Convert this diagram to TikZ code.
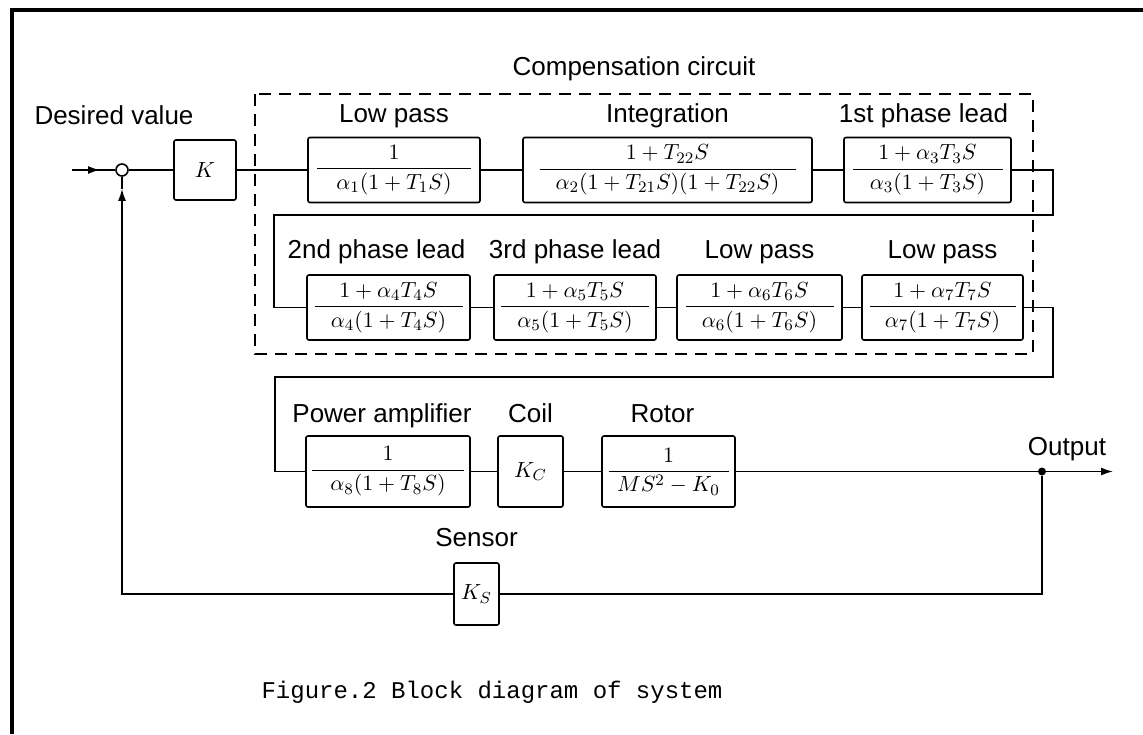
\documentclass[tikz,border=0pt]{standalone}
\usepackage{amsmath}
\usepackage{fontspec}
\setmainfont{Liberation Sans}
\newfontfamily\capfont{Liberation Mono}
\usetikzlibrary{arrows.meta,positioning,calc}
% transfer function with a fixed bar width
\newcommand{\tfn}[3]{$\dfrac{\hbox to #1{\hfil$#2$\hfil}}{#3}$}
\tikzset{
  box/.style={draw,rounded corners=1pt,inner sep=0pt,minimum height=32.5pt,
              font=\fontsize{11}{13}\selectfont},
  lab/.style={font=\fontsize{13}{15}\selectfont,inner sep=0pt},
  ar/.style={-{Latex[length=6pt,width=4pt]}},
  dot/.style={circle,fill,inner sep=0pt,minimum size=4pt},
  sumj/.style={circle,draw,fill=white,inner sep=0pt,minimum size=6pt},
  grp/.style={dashed,dash pattern=on 6pt off 4pt},
}

\begin{document}
\begin{tikzpicture}[x=0.5pt,y=-0.5pt,line width=0.8pt]
  \useasboundingbox (0,0) rectangle (1143,734);
  \draw[line width=1.6pt] (1143,10) -- (12,10) -- (12,734);

  % compensation circuit
  \draw[grp] (255,94) rectangle (1033,354);
  \node[lab,anchor=base] (comp) at (634,75) {Compensation circuit};

  % first row
  \node[sumj] (sum) at (122,170) {};
  \node[box,minimum width=31pt,minimum height=30pt] (k) at (205,170) {$K$};
  \node[box,minimum width=86pt] (lp1) at (394,170)
    {\tfn{77pt}{1}{\alpha_1(1+T_1S)}};
  \node[box,minimum width=144.5pt] (integ) at (667.5,170)
    {\tfn{128pt}{1+T_{22}S}{\alpha_2(1+T_{21}S)(1+T_{22}S)}};
  \node[box,minimum width=83.5pt] (lead1) at (927.5,170)
    {\tfn{75pt}{1+\alpha_3T_3S}{\alpha_3(1+T_3S)}};

  % second row
  \node[box,minimum width=81.5pt] (lead2) at (388.5,307.5)
    {\tfn{74pt}{1+\alpha_4T_4S}{\alpha_4(1+T_4S)}};
  \node[box,minimum width=81pt] (lead3) at (575,307.5)
    {\tfn{74pt}{1+\alpha_5T_5S}{\alpha_5(1+T_5S)}};
  \node[box,minimum width=82.5pt] (lp6) at (759.5,307.5)
    {\tfn{74pt}{1+\alpha_6T_6S}{\alpha_6(1+T_6S)}};
  \node[box,minimum width=80.5pt] (lp7) at (942.5,307.5)
    {\tfn{73pt}{1+\alpha_7T_7S}{\alpha_7(1+T_7S)}};

  % plant
  \node[box,minimum width=82pt,minimum height=35.5pt] (pamp) at (388,471.5)
    {\tfn{76pt}{1}{\alpha_8(1+T_8S)}};
  \node[box,minimum width=32.5pt,minimum height=35.5pt] (coil) at (530.5,471.5) {$K_C$};
  \node[box,minimum width=66.5pt,minimum height=35.5pt] (rotor) at (668.5,471.5)
    {\tfn{60pt}{1}{MS^2-K_0}};
  \node[box,minimum width=22.5pt,minimum height=31pt] (sensor) at (476.5,594) {$K_S$};

  % labels
  \node[lab,anchor=base] (dv) at (114,124) {Desired value};
  \node[lab,above=7pt of lp1.north,anchor=base] {Low pass};
  \node[lab,above=7pt of integ.north,anchor=base] {Integration};
  \node[lab,above=7pt of lead1.north,anchor=base,xshift=-2pt] {1st phase lead};
  \node[lab,above=8pt of lead2.north,anchor=base,xshift=-6pt] {2nd phase lead};
  \node[lab,above=8pt of lead3.north,anchor=base] {3rd phase lead};
  \node[lab,above=8pt of lp6.north,anchor=base] {Low pass};
  \node[lab,above=8pt of lp7.north,anchor=base] {Low pass};
  \node[lab,above=6.5pt of pamp.north,anchor=base,xshift=-3pt] {Power amplifier};
  \node[lab,above=6.5pt of coil.north,anchor=base] {Coil};
  \node[lab,above=6.5pt of rotor.north,anchor=base,xshift=-3pt] {Rotor};
  \node[lab,above=8pt of sensor.north,anchor=base] {Sensor};
  \node[lab,anchor=base] (outl) at (1067,455) {Output};

  % connectors
  \coordinate (in) at (72,170);
  \draw[ar] (in) -- ++(28,0);
  \draw (in) -- (sum.west);
  \draw (sum) -- (k);
  \draw (k) -- (lp1);
  \draw (lp1) -- (integ);
  \draw (integ) -- (lead1);
  \coordinate (r1) at (1053,215);
  \coordinate (l1) at (274,215);
  \draw (lead1.east) -| (r1) -- (l1) |- (lead2.west);
  \draw (lead2) -- (lead3);
  \draw (lead3) -- (lp6);
  \draw (lp6) -- (lp7);
  \coordinate (r2) at (1053,377);
  \coordinate (l2) at (275,377);
  \draw (lp7.east) -| (r2) -- (l2) |- (pamp.west);
  \draw (pamp) -- (coil);
  \draw (coil) -- (rotor);
  \coordinate (out) at (1113,471.5);
  \draw[ar] (rotor) -- (out);
  \node[dot] (tap) at (1042,471.5) {};
  \draw (tap) |- (sensor.east);
  \coordinate (fb) at ($(sum.south)+(0,12)$);
  \draw[ar] (sensor.west) -| (fb);
  \draw (fb) -- (sum.south);

  \node[font=\capfont\fontsize{12}{14}\selectfont,anchor=base,inner sep=0pt] (cap)
    at (492,698) {Figure.2 Block diagram of system};
\end{tikzpicture}
\end{document}
